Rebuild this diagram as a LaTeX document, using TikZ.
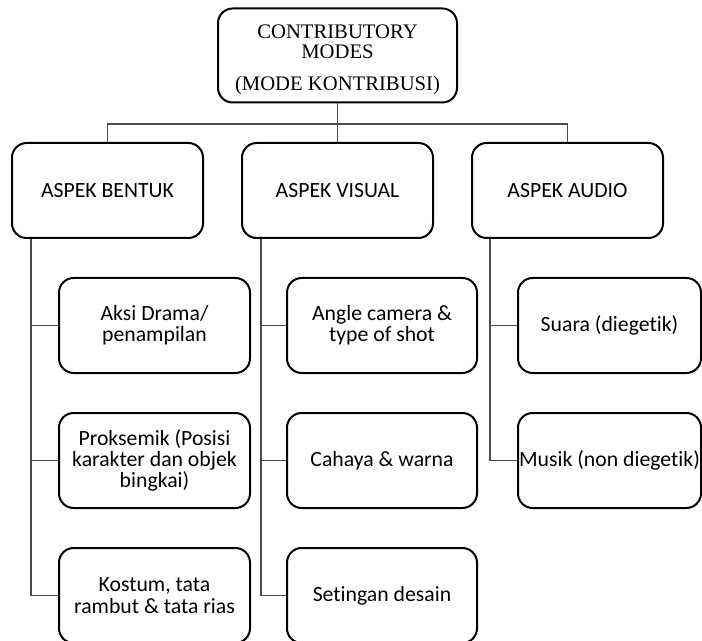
\documentclass[tikz,border=0pt]{standalone}
\usepackage{fontspec}
\setmainfont{Carlito}[RawFeature=-liga]
\newfontfamily\timesf{Liberation Serif}
\usetikzlibrary{calc}
\tikzset{
  box/.style={draw=black, line width=1.5pt, rounded corners=11pt, fill=white,
    align=center, inner sep=2pt, font=\fontsize{16.3}{16}\selectfont},
  topbox/.style={box, minimum width=179.25pt, minimum height=70.5pt,
    font=\timesf\fontsize{15.5}{15}\selectfont},
  aspbox/.style={box, minimum width=143.25pt, minimum height=71.25pt},
  subbox/.style={box, minimum width=143.25pt, minimum height=71.25pt},
  link/.style={draw=black!70, line width=0.8pt}
}
\begin{document}
\begin{tikzpicture}[x=0.75pt,y=-0.75pt]
\useasboundingbox (0,0) rectangle (702,641);
% top
\node[topbox] (top) at (337.5,55.5) {\rule{0pt}{17pt}CONTRIBUTORY\\MODES\\[9.5pt](MODE KONTRIBUSI)};
% level 2
\node[aspbox] (bentuk) at (107.5,190.5) {ASPEK BENTUK};
\node[aspbox] (visual) at (337.5,190.5) {ASPEK VISUAL};
\node[aspbox] (audio) at (567.5,190.5) {ASPEK AUDIO};
% level 3 left
\node[subbox] (b1) at (154.5,325.5) {Aksi Drama/\\penampilan};
\node[subbox] (b2) at (154.5,460.5) {Proksemik (Posisi\\karakter dan objek\\bingkai)};
\node[subbox] (b3) at (154.5,595.5) {Kostum, tata\\rambut \& tata rias};
% level 3 middle
\node[subbox, minimum width=142.5pt] (v1) at (382,325.5) {Angle camera \&\\type of shot};
\node[subbox, minimum width=142.5pt] (v2) at (382,460.5) {Cahaya \& warna};
\node[subbox, minimum width=142.5pt] (v3) at (382,595.5) {Setingan desain};
% level 3 audio
\node[subbox, minimum width=137.25pt] (a1) at (609.5,325.5) {Suara (diegetik)};
\node[subbox, minimum width=137.25pt, inner sep=0pt] (a2) at (609.5,460.5) {Musik (non diegetik)};
% connectors top
\coordinate (bus) at (337.5,124);
\draw[link] (top.south) -- (top.south |- bus);
\draw[link] (bentuk.north) -- (bentuk.north |- bus) -- (audio.north |- bus) -- (audio.north);
\draw[link] (visual.north) -- (visual.north |- bus);
% left column
\coordinate (bl) at ($(bentuk.south west)+(20,0)$);
\draw[link] (bl) |- (b3.west);
\draw[link] (bl |- b1.west) -- (b1.west);
\draw[link] (bl |- b2.west) -- (b2.west);
% middle column
\coordinate (vl) at ($(visual.south west)+(20,0)$);
\draw[link] (vl) |- (v3.west);
\draw[link] (vl |- v1.west) -- (v1.west);
\draw[link] (vl |- v2.west) -- (v2.west);
% audio column
\coordinate (al) at ($(audio.south west)+(19,0)$);
\draw[link] (al) |- (a2.west);
\draw[link] (al |- a1.west) -- (a1.west);
\end{tikzpicture}
\end{document}
